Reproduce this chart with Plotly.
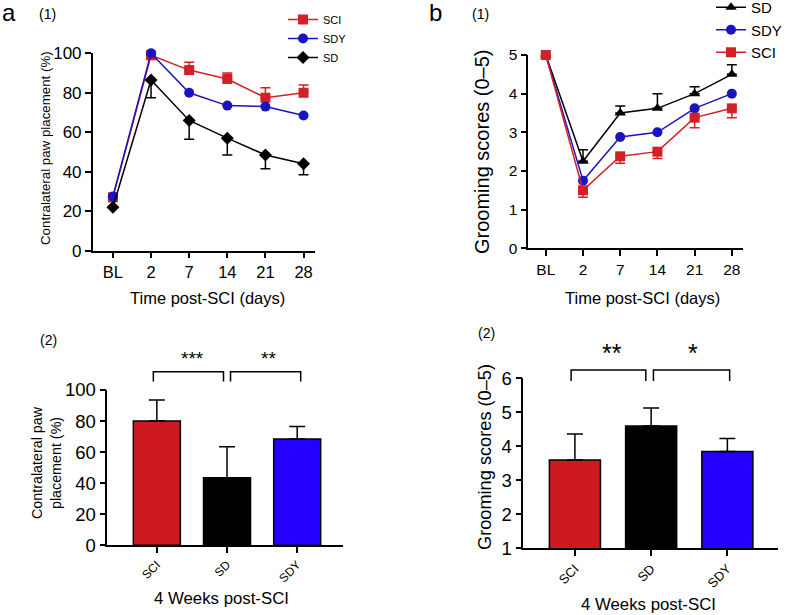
import plotly.graph_objects as go

W, H = 787, 615

days = ['BL', '2', '7', '14', '21', '28']
groups = ['SCI', 'SD', 'SDY']

# a(1) contralateral paw placement (%) over time
paw_sci = [27, 99, 91.5, 87, 77.5, 80]
paw_sci_err = [0, 1, 4, 3, 5, 4]
paw_sdy = [27.5, 100, 80, 73.5, 73, 68.5]
paw_sd = [22, 86.5, 66, 57, 48.5, 44]
paw_sd_err = [0, 9, 9.5, 8.5, 7, 5.5]

# b(1) grooming scores over time
groom_sd = [5, 2.25, 3.5, 3.62, 4.0, 4.5]
groom_sd_err = [0, 0.3, 0.18, 0.38, 0.18, 0.25]
groom_sdy = [5, 1.75, 2.88, 3.0, 3.62, 4.0]
groom_sci = [5, 1.5, 2.38, 2.5, 3.38, 3.62]
groom_sci_err = [0, 0.18, 0.18, 0.18, 0.26, 0.24]

# (2) 4 weeks post-SCI
paw_w4 = [80, 43.5, 68.5]
paw_w4_err = [13.5, 20, 8]
groom_w4 = [3.6, 4.6, 3.85]
groom_w4_err = [0.76, 0.53, 0.38]

RED = '#D22027'
BLUE = '#1A14C0'
BAR_COLORS = ['#CC1A1F', '#000000', '#2400FF']
FONT = 'Arial, Liberation Sans, sans-serif'


# pixel -> paper fraction
def px(x):
    return x / W


def py(y):
    return 1 - y / H


fig = go.Figure()


def line_trace(y, name, color, symbol, size, legend, ax, err=None, up=True):
    kw = {}
    if err is not None:
        kw['error_y'] = dict(type='data', symmetric=False,
                             array=err if up else [0] * len(err),
                             arrayminus=[0] * len(err) if up else err,
                             color=color, thickness=1.5, width=5)
    fig.add_trace(go.Scatter(
        x=days, y=y, name=name, mode='lines+markers',
        line=dict(color=color, width=1.5),
        marker=dict(color=color, symbol=symbol, size=size),
        xaxis='x' + ax, yaxis='y' + ax, legend=legend, cliponaxis=False, **kw))


# a(1)
line_trace(paw_sci, 'SCI', RED, 'square', 10, 'legend', '', paw_sci_err, True)
line_trace(paw_sdy, 'SDY', BLUE, 'circle', 10, 'legend', '')
line_trace(paw_sd, 'SD', 'black', 'diamond', 10, 'legend', '', paw_sd_err, False)

# b(1)
line_trace(groom_sd, 'SD', 'black', 'triangle-up', 10, 'legend2', '2', groom_sd_err, True)
line_trace(groom_sdy, 'SDY', BLUE, 'circle', 10, 'legend2', '2')
line_trace(groom_sci, 'SCI', RED, 'square', 10, 'legend2', '2', groom_sci_err, False)

# (2) bars
for vals, errs, ax in [(paw_w4, paw_w4_err, '3'), (groom_w4, groom_w4_err, '4')]:
    fig.add_trace(go.Bar(
        x=groups, y=vals, width=0.67, showlegend=False,
        marker=dict(color=BAR_COLORS, line=dict(color='black', width=1.5)),
        error_y=dict(type='data', symmetric=False, array=errs,
                     arrayminus=[0] * len(errs), color='black',
                     thickness=1.5, width=8),
        xaxis='x' + ax, yaxis='y' + ax))

axis_style = dict(showline=True, linecolor='black', linewidth=1.5,
                  ticks='outside', ticklen=6, tickwidth=1.5, tickcolor='black',
                  showgrid=False, zeroline=False, color='black')

fig.update_layout(
    width=W, height=H, autosize=False,
    margin=dict(l=0, r=0, t=0, b=0, autoexpand=False),
    plot_bgcolor='white', paper_bgcolor='white',
    font=dict(family=FONT, color='black'),
    xaxis=dict(axis_style, domain=[px(92.7), px(315)], range=[-0.53, 5.3],
               tickfont=dict(size=16.5), anchor='y'),
    yaxis=dict(axis_style, domain=[py(250.7), py(53.3)], range=[0, 100],
               dtick=20, tickfont=dict(size=17), anchor='x'),
    xaxis2=dict(axis_style, domain=[px(528.3), px(743)], range=[-0.47, 5.3],
                tickfont=dict(size=15.5), anchor='y2'),
    yaxis2=dict(axis_style, domain=[py(248.3), py(55)], range=[0, 5],
                dtick=1, tickfont=dict(size=15.5), anchor='x2'),
    xaxis3=dict(axis_style, domain=[px(107.3), px(343.3)], range=[-0.706, 2.657],
                tickangle=-45, tickfont=dict(size=12), anchor='y3'),
    yaxis3=dict(axis_style, domain=[py(545.3), py(390)], range=[0, 100],
                dtick=20, tickfont=dict(size=18.5), anchor='x3'),
    xaxis4=dict(axis_style, domain=[px(523.3), px(778.3)], range=[-0.677, 2.668],
                tickangle=-45, tickfont=dict(size=13), anchor='y4'),
    yaxis4=dict(axis_style, domain=[py(548.3), py(378.3)], range=[1, 6],
                dtick=1, tickfont=dict(size=18.5), anchor='x4'),
    legend=dict(x=px(283), y=py(5), xanchor='left', yanchor='top',
                font=dict(size=11), itemwidth=30, bgcolor='rgba(0,0,0,0)'),
    legend2=dict(x=px(711), y=py(-9), xanchor='left', yanchor='top',
                 font=dict(size=15), itemwidth=30, bgcolor='rgba(0,0,0,0)'),
)

ann = []


def text(x, y, s, size, angle=0, xref='paper', yref='paper'):
    ann.append(dict(x=x, y=y, xref=xref, yref=yref, text=s, showarrow=False,
                    font=dict(size=size, family=FONT, color='black'),
                    textangle=angle, xanchor='center', yanchor='middle'))


# panel labels
text(px(9), py(13), 'a', 24)
text(px(47), py(14), '(1)', 14)
text(px(435), py(13), 'b', 24)
text(px(480), py(14), '(1)', 14)
text(px(48), py(340), '(2)', 14)
text(px(487), py(333), '(2)', 14)

# axis titles
text(px(45), py(148), 'Contralateral paw placement (%)', 13.3, -90)
text(px(207), py(298), 'Time post-SCI (days)', 16.5)
text(px(482), py(152), 'Grooming scores (0–5)', 20, -90)
text(px(642), py(298), 'Time post-SCI (days)', 16.5)
text(px(46), py(463), 'Contralateral paw<br>placement (%)', 14.3, -90)
text(px(222), py(598), '4 Weeks post-SCI', 16.8)
text(px(485), py(457), 'Grooming scores (0–5)', 18.2, -90)
text(px(648), py(604), '4 Weeks post-SCI', 16.8)

# significance brackets
shapes = []
for ax, pairs, ytop, ybot in [
        ('3', [(-0.05, 0.95), (1.05, 2.05)], 1.118, 1.054),
        ('4', [(-0.05, 0.93), (1.03, 2.03)], 1.049, 0.984)]:
    for x0, x1 in pairs:
        shapes.append(dict(
            type='path', xref='x' + ax, yref='y' + ax + ' domain',
            path=f'M {x0},{ybot} L {x0},{ytop} L {x1},{ytop} L {x1},{ybot}',
            line=dict(color='black', width=1.5)))

text(0.51, 1.205, '***', 19, xref='x3', yref='y3 domain')
text(1.59, 1.205, '**', 19, xref='x3', yref='y3 domain')
text(0.48, 1.15, '**', 25, xref='x4', yref='y4 domain')
text(1.55, 1.15, '*', 25, xref='x4', yref='y4 domain')

fig.update_layout(annotations=ann, shapes=shapes)

# drop the default 8px body margin so the figure fills the window
fig.write_html('out.html', config={'displayModeBar': False},
               post_script="document.body.style.margin = '0';")
